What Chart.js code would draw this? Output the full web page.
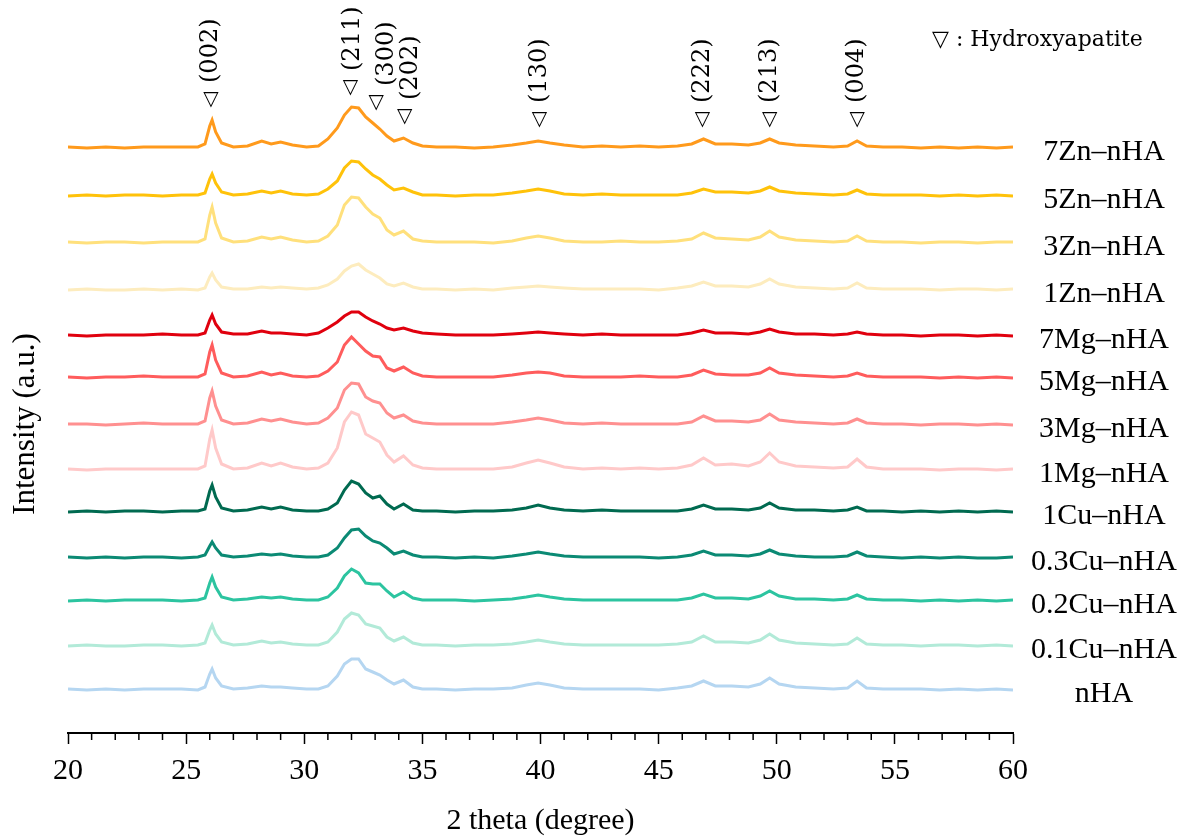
<!DOCTYPE html>
<html>
<head>
<meta charset="utf-8">
<script src="https://cdn.jsdelivr.net/npm/chart.js@4.4.1/dist/chart.umd.min.js"></script>
<style>
  body { margin: 0; background: #fff; }
  canvas { display: block; }
</style>
</head>
<body>
<canvas id="xrd" width="1187" height="837"></canvas>
<script>
// 2 theta positions (degree)
const twoTheta = [20, 20.8, 21.6, 22.4, 23.2, 24, 24.8, 25.5, 25.8, 26.0,
  26.1, 26.25, 26.5, 27, 27.6, 28.2, 28.6, 29.0, 29.5, 30.1,
  30.6, 31.0, 31.4, 31.7, 32.0, 32.3, 32.6, 32.9, 33.2, 33.5,
  33.8, 34.2, 34.6, 35.0, 35.6, 36.4, 37.2, 38.0, 38.8, 39.4,
  39.9, 40.4, 41.0, 41.8, 42.6, 43.4, 44.2, 45.0, 45.8, 46.4,
  46.9, 47.4, 48.1, 48.8, 49.3, 49.7, 50.1, 50.8, 51.6, 52.4,
  53.0, 53.4, 53.8, 54.5, 55.3, 56.1, 56.9, 57.7, 58.5, 59.3, 60];

const sampleNames = ['7Zn–nHA', '5Zn–nHA', '3Zn–nHA', '1Zn–nHA', '7Mg–nHA', '5Mg–nHA',
  '3Mg–nHA', '1Mg–nHA', '1Cu–nHA', '0.3Cu–nHA', '0.2Cu–nHA', '0.1Cu–nHA', 'nHA'];

// vertical stacking offset of each pattern (a.u.)
const offsets = [585, 537, 490, 443, 397, 355, 308, 263, 221, 175, 132, 87, 43];

// intensity above each pattern's own baseline (a.u.)
const int7Zn = [1, 0, 1, 0, 1, 1, 1, 1, 4, 22,
  28, 16, 5, 1, 2, 7, 4, 6, 3, 1,
  2, 9, 20, 33, 41, 40, 31, 25, 19, 12,
  7, 10, 5, 2, 1, 1, 0, 1, 3, 5,
  7, 5, 3, 1, 2, 1, 2, 1, 2, 4,
  9, 4, 4, 3, 5, 9, 5, 3, 2, 1,
  2, 7, 2, 1, 1, 0, 1, 0, 1, 0, 1];
const int5Zn = [0, 1, 0, 1, 1, 0, 1, 1, 3, 17,
  22, 13, 4, 1, 2, 5, 3, 5, 2, 1,
  2, 7, 15, 28, 35, 34, 27, 21, 17, 11,
  6, 8, 4, 1, 1, 0, 1, 1, 3, 5,
  7, 5, 2, 1, 2, 1, 1, 1, 1, 3,
  7, 4, 4, 3, 5, 9, 5, 3, 2, 1,
  2, 6, 2, 1, 1, 1, 0, 1, 0, 1, 0];
const int3Zn = [1, 0, 1, 1, 0, 1, 1, 1, 4, 28,
  36, 20, 5, 1, 2, 6, 4, 6, 3, 1,
  2, 7, 18, 38, 46, 45, 36, 29, 25, 13,
  8, 12, 4, 2, 1, 1, 1, 0, 2, 5,
  7, 5, 2, 1, 1, 2, 1, 1, 2, 4,
  10, 5, 4, 3, 6, 12, 6, 3, 2, 1,
  2, 7, 2, 1, 1, 0, 1, 1, 0, 1, 1];
const int1Zn = [0, 1, 0, 0, 1, 0, 1, 0, 2, 13,
  17, 10, 3, 1, 1, 3, 2, 3, 2, 1,
  2, 5, 11, 19, 24, 26, 20, 16, 12, 6,
  4, 7, 3, 1, 1, 0, 1, 0, 2, 3,
  4, 3, 2, 1, 1, 1, 1, 0, 2, 4,
  8, 4, 4, 3, 6, 11, 6, 3, 2, 1,
  2, 7, 2, 1, 1, 1, 0, 1, 1, 0, 1];
const int7Mg = [1, 0, 1, 1, 1, 2, 1, 1, 3, 16,
  21, 12, 4, 2, 2, 5, 3, 3, 2, 1,
  3, 8, 14, 20, 24, 24, 19, 15, 12, 8,
  6, 8, 5, 3, 2, 1, 1, 1, 2, 3,
  4, 3, 2, 1, 2, 1, 1, 1, 1, 3,
  6, 3, 3, 2, 4, 7, 4, 2, 2, 1,
  2, 4, 2, 1, 1, 0, 1, 1, 0, 1, 0];
const int5Mg = [1, 0, 1, 1, 2, 1, 1, 1, 4, 26,
  33, 18, 5, 1, 2, 6, 3, 5, 2, 1,
  2, 7, 16, 33, 41, 34, 27, 22, 21, 10,
  7, 11, 5, 2, 1, 1, 1, 1, 3, 5,
  6, 5, 2, 1, 1, 1, 2, 1, 1, 3,
  8, 4, 3, 3, 5, 10, 5, 3, 2, 1,
  2, 5, 2, 1, 1, 1, 0, 1, 0, 1, 0];
const int3Mg = [1, 1, 0, 1, 2, 1, 1, 1, 4, 27,
  34, 19, 5, 1, 2, 6, 4, 6, 3, 1,
  2, 7, 17, 35, 42, 41, 28, 24, 22, 12,
  7, 10, 4, 2, 1, 1, 1, 1, 3, 5,
  7, 5, 2, 1, 2, 1, 1, 1, 1, 3,
  9, 4, 4, 3, 5, 11, 5, 3, 2, 1,
  2, 6, 2, 1, 1, 0, 1, 1, 0, 1, 0];
const int1Mg = [1, 0, 1, 1, 1, 1, 1, 1, 4, 31,
  40, 22, 6, 1, 2, 7, 4, 7, 3, 1,
  2, 7, 22, 48, 58, 55, 36, 32, 28, 15,
  8, 14, 5, 2, 1, 1, 1, 1, 3, 7,
  10, 7, 3, 1, 2, 1, 2, 1, 2, 5,
  12, 5, 6, 4, 8, 17, 8, 4, 3, 2,
  3, 11, 3, 1, 1, 1, 0, 1, 1, 0, 1];
const int1Cu = [0, 1, 0, 1, 1, 0, 1, 1, 3, 21,
  27, 15, 4, 1, 2, 5, 3, 5, 2, 1,
  1, 3, 9, 22, 31, 28, 19, 14, 16, 8,
  3, 8, 2, 1, 1, 0, 1, 1, 2, 4,
  7, 4, 2, 1, 2, 1, 1, 1, 1, 3,
  7, 3, 3, 2, 4, 9, 4, 2, 2, 1,
  2, 5, 1, 1, 0, 1, 0, 1, 0, 1, 0];
const int03Cu = [1, 0, 1, 0, 1, 1, 0, 1, 3, 12,
  16, 10, 3, 1, 2, 4, 3, 4, 2, 1,
  1, 3, 10, 20, 28, 29, 22, 17, 15, 10,
  4, 7, 3, 1, 1, 0, 1, 0, 2, 4,
  6, 4, 2, 1, 1, 1, 1, 0, 1, 3,
  7, 3, 3, 2, 4, 8, 4, 2, 1, 1,
  2, 6, 2, 1, 0, 1, 0, 1, 0, 0, 1];
const int02Cu = [0, 1, 0, 1, 1, 1, 0, 1, 3, 18,
  24, 14, 4, 1, 2, 4, 3, 4, 2, 1,
  1, 4, 13, 25, 32, 28, 18, 17, 17, 10,
  4, 9, 3, 1, 1, 1, 0, 1, 2, 4,
  6, 4, 2, 1, 1, 1, 1, 1, 1, 3,
  7, 3, 3, 2, 5, 10, 5, 2, 2, 1,
  2, 6, 2, 1, 1, 0, 1, 0, 1, 0, 1];
const int01Cu = [0, 1, 0, 0, 1, 1, 0, 1, 3, 16,
  21, 12, 4, 1, 2, 5, 3, 4, 2, 1,
  1, 4, 14, 27, 33, 31, 22, 20, 18, 9,
  5, 9, 3, 1, 1, 0, 1, 1, 2, 4,
  6, 4, 2, 1, 1, 1, 1, 1, 2, 4,
  10, 4, 4, 3, 6, 12, 6, 3, 2, 1,
  2, 8, 2, 1, 1, 0, 1, 1, 0, 1, 0];
const intNHA = [1, 0, 1, 0, 1, 1, 1, 0, 3, 16,
  21, 12, 4, 1, 2, 4, 3, 3, 2, 1,
  1, 4, 14, 26, 31, 31, 21, 18, 15, 10,
  6, 10, 3, 1, 1, 0, 1, 1, 2, 5,
  7, 5, 2, 1, 1, 1, 1, 0, 2, 4,
  9, 4, 4, 3, 6, 12, 6, 3, 2, 1,
  2, 9, 2, 1, 1, 1, 0, 1, 0, 1, 0];

const intensities = [int7Zn, int5Zn, int3Zn, int1Zn, int7Mg, int5Mg, int3Mg, int1Mg,
  int1Cu, int03Cu, int02Cu, int01Cu, intNHA];

// hydroxyapatite reflections marked above the patterns
const hklLabels = ['(002)', '(211)', '(300)', '(202)', '(130)', '(222)', '(213)', '(004)'];
const hklAngles = [26.05, 31.95, 33.05, 34.25, 39.95, 46.85, 49.7, 53.4];

const colors = ['#ff9a1c', '#ffc20a', '#ffe07c', '#fdecbe', '#e0000e', '#ff5c5c',
  '#ff9090', '#ffc9c9', '#006a50', '#0b8a74', '#2cc4a0', '#b2ead8', '#b5d6f1'];

// marker height (a.u.) for each reflection, and small sideways nudge of its text (px)
const markLevel = [633, 645, 630, 616, 613, 613, 613, 613];
const textNudge = [0, 2, 10, 6, 0, 0, 0, 0];

const serif = "'Liberation Serif', 'Times New Roman', serif";

const datasets = sampleNames.map(function (name, i) {
    return {
        label: name,
        data: twoTheta.map(function (t, j) { return { x: t, y: offsets[i] + intensities[i][j] }; }),
        borderColor: colors[i],
        borderWidth: 3,
        pointRadius: 0,
        tension: 0,
        fill: false
    };
});

const decorations = {
    id: 'decorations',
    afterDraw: function (chart) {
        const ctx = chart.ctx;
        const xs = chart.scales.x;
        const ys = chart.scales.y;
        const area = chart.chartArea;
        ctx.save();

        // minor ticks every degree
        ctx.strokeStyle = '#000';
        ctx.lineWidth = 1.5;
        for (let v = 21; v < 60; v++) {
            if (v % 5 === 0) continue;
            const px = xs.getPixelForValue(v);
            ctx.beginPath();
            ctx.moveTo(px, area.bottom);
            ctx.lineTo(px, area.bottom + 7);
            ctx.stroke();
        }

        // reflection markers and rotated hkl labels
        ctx.fillStyle = '#000';
        hklLabels.forEach(function (lab, k) {
            const px = xs.getPixelForValue(hklAngles[k]);
            const py = ys.getPixelForValue(markLevel[k]);
            ctx.font = "bold 20px 'DejaVu Sans'";
            ctx.textAlign = 'center';
            ctx.textBaseline = 'middle';
            ctx.fillText('▽', px, py);
            ctx.save();
            ctx.translate(px + textNudge[k], py - 17);
            ctx.rotate(-Math.PI / 2);
            ctx.font = "24px 'DejaVu Serif'";
            ctx.textAlign = 'left';
            ctx.textBaseline = 'middle';
            ctx.fillText(lab, 0, 0);
            ctx.restore();
        });

        // key
        ctx.font = "22px 'DejaVu Serif'";
        ctx.textAlign = 'left';
        ctx.textBaseline = 'middle';
        ctx.fillText('▽ : Hydroxyapatite', 932, 40);

        // sample names at the right
        ctx.font = '30px ' + serif;
        ctx.textAlign = 'center';
        sampleNames.forEach(function (name, i) {
            ctx.fillText(name, 1104, ys.getPixelForValue(offsets[i]) + 4);
        });

        // y axis title
        ctx.save();
        ctx.translate(26, 424);
        ctx.rotate(-Math.PI / 2);
        ctx.font = '31px ' + serif;
        ctx.textAlign = 'center';
        ctx.fillText('Intensity (a.u.)', 0, 0);
        ctx.restore();

        ctx.restore();
    }
};

new Chart(document.getElementById('xrd').getContext('2d'), {
    type: 'line',
    data: { datasets: datasets },
    plugins: [decorations],
    options: {
        responsive: false,
        animation: false,
        layout: { padding: { left: 68, right: 174, top: 10, bottom: 0 } },
        plugins: {
            legend: { display: false },
            tooltip: { enabled: false }
        },
        scales: {
            x: {
                type: 'linear',
                min: 20,
                max: 60,
                afterFit: function (scale) { scale.height = 104; },
                border: { display: true, color: '#000', width: 2 },
                grid: {
                    drawOnChartArea: false,
                    drawTicks: true,
                    tickLength: 11,
                    tickColor: '#000',
                    tickWidth: 1.5
                },
                ticks: {
                    stepSize: 5,
                    maxRotation: 0,
                    autoSkip: false,
                    padding: 9,
                    color: '#000',
                    font: { family: serif, size: 30 }
                },
                title: {
                    display: true,
                    text: '2 theta (degree)',
                    color: '#000',
                    font: { family: serif, size: 30, lineHeight: 1 },
                    padding: { top: 0, bottom: 1 }
                }
            },
            y: {
                display: false,
                min: 0,
                max: 723
            }
        }
    }
});
</script>
</body>
</html>
